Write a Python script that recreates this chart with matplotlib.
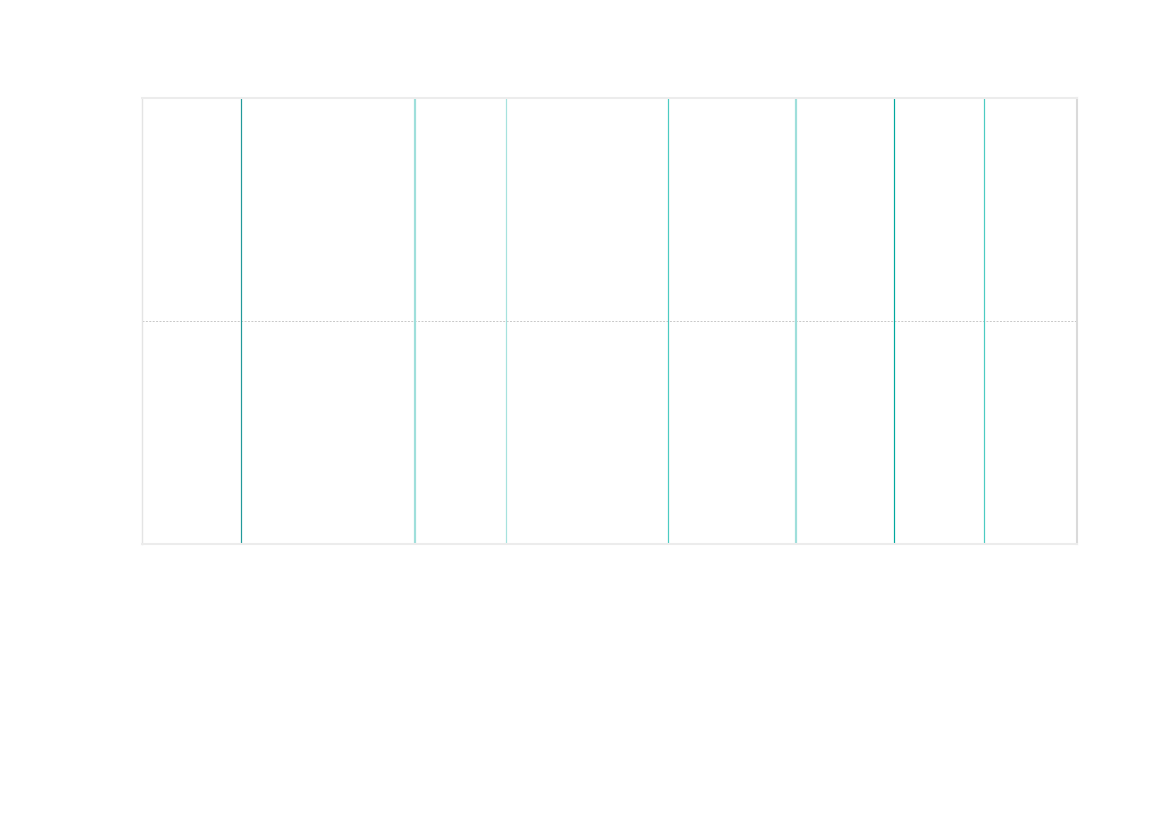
import matplotlib
matplotlib.use("Agg")
import matplotlib.pyplot as plt

# Data: positions of the barcode strips (x in 0..100), their colours and widths
positions = [10.6, 29.2, 38.9, 56.3, 69.9, 80.4, 90.05]
colors = ["#22999a", "#9fdfdb", "#a6e2de", "#4ccbc2", "#9fdfdb", "#00a89e", "#4ccbc2"]
widths_px = [1.2, 2.2, 1.2, 1.2, 2.2, 1.2, 1.2]
x_min, x_max = 0, 100
baseline = 0

fig = plt.figure(figsize=(11.69, 8.27), dpi=100)
W, H = 1169, 827
ax = fig.add_axes([142 / W, 1 - 544 / H, (1077 - 142) / W, (544 - 98) / H])
ax.set_xlim(x_min, x_max)
ax.set_ylim(-1, 1)

ax.axhline(baseline, color="#c8c8c8", lw=0.7, ls=(0, (2, 1.5)), zorder=1)
for p, c, w in zip(positions, colors, widths_px):
    ax.vlines(p, -1, 1, colors=c, linewidth=w * 0.72, zorder=2)

ax.set_xticks([])
ax.set_yticks([])
ax.spines["top"].set_color("#ececec")
ax.spines["top"].set_linewidth(1.5)
ax.spines["bottom"].set_color("#ececec")
ax.spines["bottom"].set_linewidth(1.5)
ax.spines["left"].set_color("#e4e4e4")
ax.spines["left"].set_linewidth(1.0)
ax.spines["right"].set_color("#dadada")
ax.spines["right"].set_linewidth(1.5)

fig.savefig("out.png", dpi=100)
